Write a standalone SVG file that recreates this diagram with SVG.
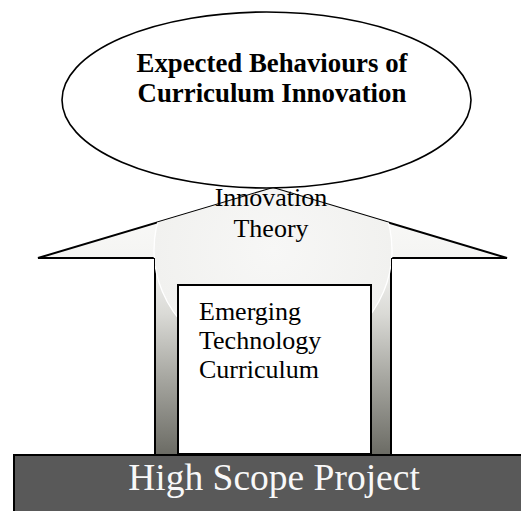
<svg xmlns="http://www.w3.org/2000/svg" width="521" height="511" viewBox="0 0 521 511">
  <style>
    .serif { font-family: "Liberation Serif", "Times New Roman", serif; }
    .outline { stroke: #000; stroke-width: 2; stroke-linejoin: miter; }
    .lbl { font-size: 26px; fill: #000; }
    .title { font-size: 26.8px; font-weight: bold; fill: #000; }
    .base { font-size: 37.5px; fill: #f8f8f8; }
  </style>
  <defs>
    <linearGradient id="shaftShade" gradientUnits="userSpaceOnUse" x1="0" y1="188" x2="0" y2="455">
      <stop offset="0" stop-color="#fbfbfa"/>
      <stop offset="0.28" stop-color="#f4f4f2"/>
      <stop offset="0.47" stop-color="#dadad6"/>
      <stop offset="0.7" stop-color="#a9a9a3"/>
      <stop offset="1" stop-color="#6b6b64"/>
    </linearGradient>
    <radialGradient id="glow" gradientUnits="userSpaceOnUse" cx="273" cy="250" r="119">
      <stop offset="0" stop-color="#f7f7f6"/>
      <stop offset="1" stop-color="#f1f1ef"/>
    </radialGradient>
    <clipPath id="arrowClip">
      <polygon points="273,188 507,258 391,258 391,455 155,455 155,258 38,258"/>
    </clipPath>
  </defs>

  <!-- upward block arrow: Innovation Theory -->
  <g id="innovation-theory">
    <polygon class="outline" fill="url(#shaftShade)" points="273,188 507,258 391,258 391,455 155,455 155,258 38,258"/>
    <g clip-path="url(#arrowClip)">
      <ellipse cx="273" cy="250" rx="119" ry="113" fill="url(#glow)" stroke="#ffffff" stroke-width="1.3"/>
    </g>
  </g>

  <!-- inner box -->
  <g id="emerging-technology">
    <rect class="outline" x="178" y="285" width="193" height="169" fill="#ffffff"/>
    <text class="serif lbl" x="199" y="320">Emerging</text>
    <text class="serif lbl" x="199" y="349">Technology</text>
    <text class="serif lbl" x="199" y="378">Curriculum</text>
  </g>

  <!-- top ellipse -->
  <g id="expected-behaviours">
    <ellipse cx="266.5" cy="100" rx="204.5" ry="88" fill="#ffffff" stroke="#000" stroke-width="1.6"/>
    <text class="serif title" x="272" y="72" text-anchor="middle">Expected Behaviours of</text>
    <text class="serif title" x="272" y="102" text-anchor="middle">Curriculum Innovation</text>
  </g>

  <!-- arrow label sits above the ellipse edge -->
  <g id="innovation-theory-label">
    <text class="serif lbl" x="271" y="206" text-anchor="middle">Innovation</text>
    <text class="serif lbl" x="271" y="237" text-anchor="middle">Theory</text>
  </g>

  <!-- base bar -->
  <g id="high-scope-project">
    <rect x="14" y="455" width="520" height="70" fill="#595959" stroke="#000" stroke-width="2"/>
    <text class="serif base" x="274" y="490" text-anchor="middle">High Scope Project</text>
  </g>

  <g id="connectors"/>
</svg>
